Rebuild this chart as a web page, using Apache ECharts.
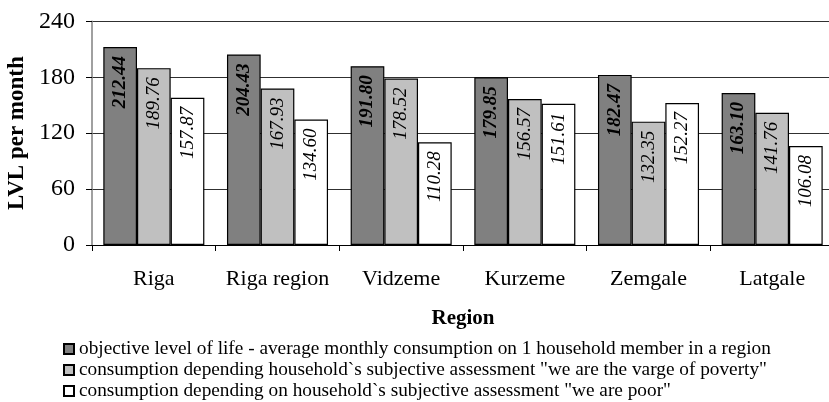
<!DOCTYPE html>
<html>
<head>
<meta charset="utf-8">
<script src="https://cdn.jsdelivr.net/npm/echarts@6/dist/echarts.min.js"></script>
<style>
  html, body { margin: 0; padding: 0; background: #fff; }
  #chart { width: 829px; height: 402px; }
</style>
</head>
<body>
<div id="chart"></div>
<script>
// Monthly consumption per household member by region (LVL)
var regions = ['Riga', 'Riga region', 'Vidzeme', 'Kurzeme', 'Zemgale', 'Latgale'];
var seriesNames = [
  'objective level of life - average monthly consumption on 1 household member in a region',
  'consumption depending household`s subjective assessment "we are the varge of poverty"',
  'consumption depending on household`s subjective assessment "we are poor"'
];
var objectiveLevel = [212.44, 204.43, 191.80, 179.85, 182.47, 163.10];
var vergeOfPoverty = [189.76, 167.93, 178.52, 156.57, 132.35, 141.76];
var weArePoor = [157.87, 134.60, 110.28, 151.61, 152.27, 106.08];
var yTicks = [0, 60, 120, 180, 240];

var serif = 'Liberation Serif, Times New Roman, serif';
var fills = ['#808080', '#c0c0c0', '#ffffff'];
var values = [objectiveLevel, vergeOfPoverty, weArePoor];

function makeSeries(i) {
  return {
    name: seriesNames[i],
    type: 'bar',
    data: values[i],
    barGap: '0%',
    barCategoryGap: '18.3%',
    itemStyle: { color: fills[i], borderColor: '#000', borderWidth: 1.2 },
    label: {
      show: true,
      position: 'insideTop',
      rotate: 90,
      align: 'right',
      verticalAlign: 'middle',
      distance: 9,
      fontFamily: serif,
      fontSize: 19,
      fontStyle: 'italic',
      fontWeight: i === 0 ? 'bold' : 'normal',
      color: '#000',
      formatter: function (p) { return p.value.toFixed(2); }
    }
  };
}

var chart = echarts.init(document.getElementById('chart'), null, { renderer: 'canvas' });
chart.setOption({
  animation: false,
  backgroundColor: '#fff',
  // the plot runs slightly past the right edge of the canvas
  grid: { left: 92, top: 21.3, width: 742, height: 223.7, containLabel: false, outerBoundsMode: 'none' },
  legend: {
    orient: 'vertical',
    left: 58,
    top: 334.5,
    height: 90,
    itemWidth: 10,
    itemHeight: 10,
    itemGap: 2,
    icon: 'rect',
    data: seriesNames,
    textStyle: { fontFamily: serif, fontSize: 19.3, color: '#000' }
  },
  xAxis: {
    type: 'category',
    data: regions,
    name: 'Region',
    nameLocation: 'middle',
    nameGap: 63,
    nameTextStyle: { fontFamily: serif, fontSize: 21, fontWeight: 'bold', color: '#000' },
    axisLine: { lineStyle: { color: '#000', width: 1 } },
    axisTick: { show: true, length: 6, lineStyle: { color: '#000' } },
    axisLabel: { interval: 0, fontFamily: serif, fontSize: 22, color: '#000', margin: 23 }
  },
  yAxis: {
    type: 'value',
    min: yTicks[0],
    max: yTicks[yTicks.length - 1],
    interval: 60,
    name: 'LVL per month',
    nameLocation: 'middle',
    nameGap: 61,
    nameTextStyle: { fontFamily: serif, fontSize: 23, fontWeight: 'bold', color: '#000' },
    axisLine: { show: true, lineStyle: { color: '#808080', width: 1.5 } },
    axisTick: { show: true, length: 6, lineStyle: { color: '#000' } },
    axisLabel: { fontFamily: serif, fontSize: 24, color: '#000', margin: 17 },
    splitLine: { show: true, lineStyle: { color: '#303030', width: 1 } }
  },
  series: [makeSeries(0), makeSeries(1), makeSeries(2)]
});
</script>
</body>
</html>
